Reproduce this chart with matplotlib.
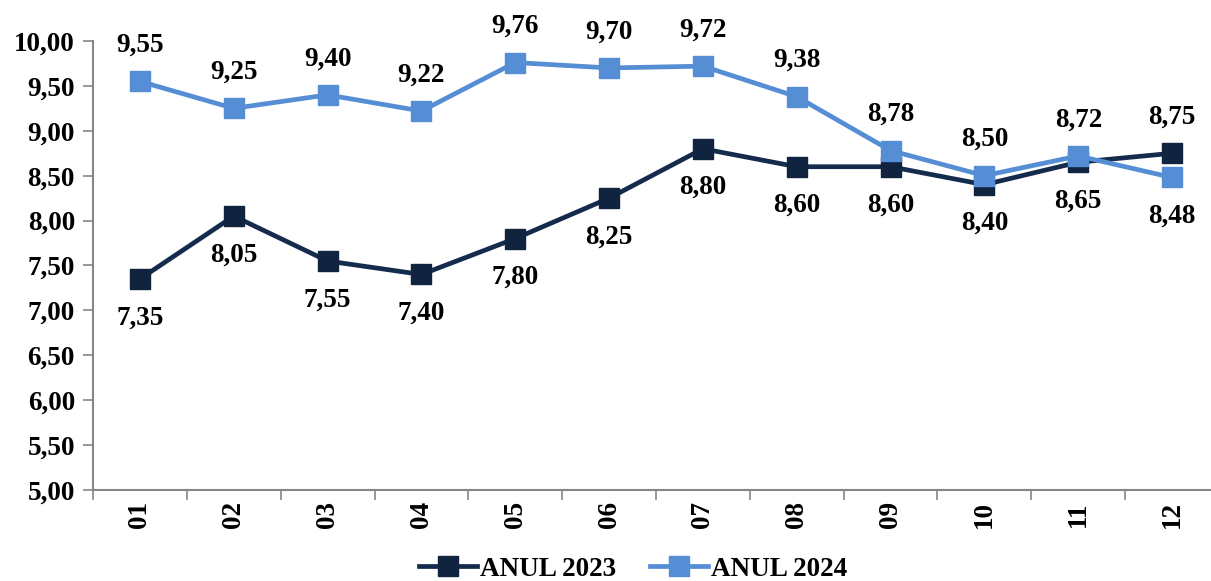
import numpy as np
import matplotlib.pyplot as plt

plt.rcParams['font.family'] = ['Liberation Serif', 'DejaVu Serif']
plt.rcParams['font.weight'] = 'bold'

months = ['01', '02', '03', '04', '05', '06', '07', '08', '09', '10', '11', '12']
anul_2023 = [7.35, 8.05, 7.55, 7.40, 7.80, 8.25, 8.80, 8.60, 8.60, 8.40, 8.65, 8.75]
anul_2024 = [9.55, 9.25, 9.40, 9.22, 9.76, 9.70, 9.72, 9.38, 8.78, 8.50, 8.72, 8.48]
yticks = [5.0, 5.5, 6.0, 6.5, 7.0, 7.5, 8.0, 8.5, 9.0, 9.5, 10.0]

# which labels go above the point (True) or below (False)
above_2023 = [False] * 11 + [True]
above_2024 = [True] * 11 + [False]

dark = '#142B4D'
light = '#558ED5'
fs = 19.5

fig = plt.figure(figsize=(12.11, 5.81), dpi=100)
# category axis runs a bit past the right edge, as in the original
ax = fig.add_axes([93 / 1211, 1 - 490 / 581, 1126 / 1211, (490 - 41) / 581])

x = np.arange(len(months))
ax.plot(x, anul_2023, color=dark, lw=3.4, marker='s', ms=14, mfc='#10243F', mec='#10243F',
        label='ANUL 2023', zorder=3)
ax.plot(x, anul_2024, color=light, lw=3.4, marker='s', ms=14, mfc=light, mec=light,
        label='ANUL 2024', zorder=4)


def fmt(v):
    return ('%.2f' % v).replace('.', ',')


for xi, v, up in zip(x, anul_2023, above_2023):
    ax.annotate(fmt(v), (xi, v), xytext=(0, 26 if up else -28), textcoords='offset points',
                ha='center', va='center', fontsize=fs, fontweight='bold')
for xi, v, up in zip(x, anul_2024, above_2024):
    ax.annotate(fmt(v), (xi, v), xytext=(0, 26 if up else -28), textcoords='offset points',
                ha='center', va='center', fontsize=fs, fontweight='bold')

ax.set_xlim(-0.5, len(months) - 0.5)
ax.set_ylim(5, 10)
ax.set_yticks(yticks)
ax.set_yticklabels([fmt(v) for v in yticks], fontsize=fs, fontweight='bold')
ax.set_xticks(x)
ax.set_xticklabels(months, rotation=90, fontsize=fs, fontweight='bold')
ax.set_xticks(np.arange(-0.5, len(months), 1), minor=True)
ax.tick_params(axis='x', which='major', length=0, pad=8)
ax.tick_params(axis='x', which='minor', length=7, color='#868686', width=1.2)
ax.tick_params(axis='y', length=7, color='#868686', width=1.2, pad=6)

for s in ['top', 'right']:
    ax.spines[s].set_visible(False)
for s in ['left', 'bottom']:
    ax.spines[s].set_color('#868686')
    ax.spines[s].set_linewidth(1.5)

leg = ax.legend(loc='center', bbox_to_anchor=(633 / 1211, 1 - 569 / 581), bbox_transform=fig.transFigure,
                ncol=2, frameon=False, prop={'size': fs, 'weight': 'bold'},
                handlelength=2.15, handletextpad=0.1, columnspacing=1.25, borderpad=0)

fig.savefig('out.png', dpi=100)
